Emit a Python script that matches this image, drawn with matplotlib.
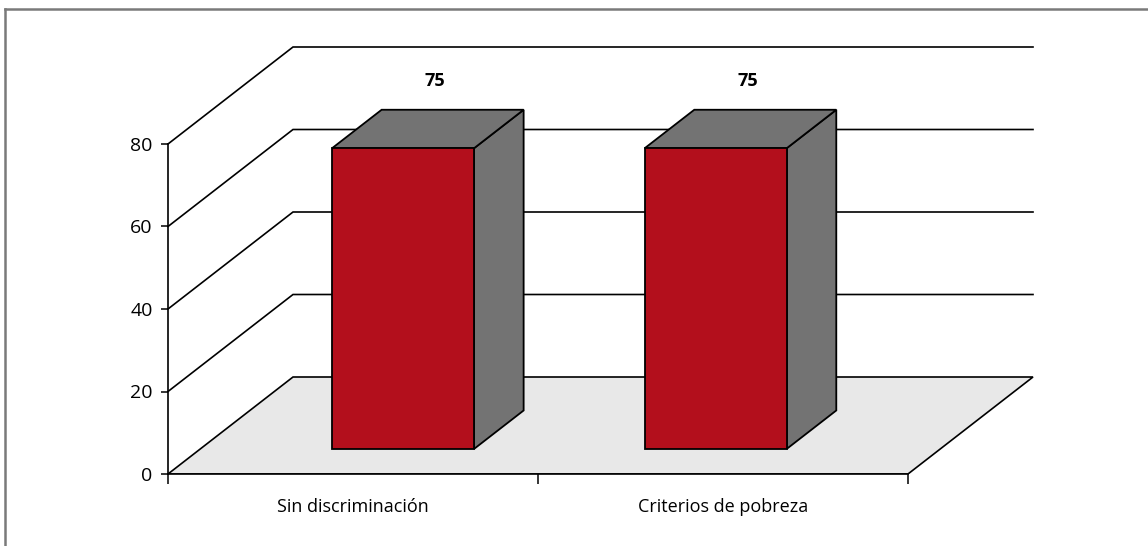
import numpy as np
import matplotlib
matplotlib.use("Agg")
import matplotlib.pyplot as plt
from matplotlib.patches import Polygon
from matplotlib.lines import Line2D

# data
categories = ["Sin discriminación", "Criterios de pobreza"]
values = [75, 75]
yticks = [0, 20, 40, 60, 80]

# colours
front_col = "#b30f1c"
side_col = "#737373"
floor_col = "#e8e8e8"

plt.rcParams["font.family"] = ["Open Sans", "DejaVu Sans"]

W, H = 1148, 546
fig = plt.figure(figsize=(W / 100, H / 100), dpi=100)

# axes placed so that category 0 sits at x=168px and value 0 at y=474px
px_cat = 370.0      # pixels per category
px_val = 4.125      # pixels per value unit
x0_px, y0_px = 168, 474
right_px, top_px = 1045, 35
ax = fig.add_axes([x0_px / W, (H - y0_px) / H, (right_px - x0_px) / W, (y0_px - top_px) / H])
ax.set_xlim(0, (right_px - x0_px) / px_cat)
ax.set_ylim(0, (y0_px - top_px) / px_val)

# oblique depth offset, in data units
DX = 125 / px_cat
DY = 97 / px_val


def P(x, v, d):
    return (x + d * DX, v + d * DY)


n = len(categories)
# floor
floor = Polygon([P(0, 0, 0), P(n, 0, 0), P(n, 0, 1), P(0, 0, 1)], closed=True,
                facecolor=floor_col, edgecolor="black", lw=1.2, zorder=1)
ax.add_patch(floor)

# back wall grid lines
for v in yticks[1:]:
    pts = [P(0, v, 0), P(0, v, 1), P(n, v, 1)]
    ax.plot([p[0] for p in pts], [p[1] for p in pts], color="black", lw=1.2, zorder=2,
            solid_joinstyle="miter", clip_on=False)

# bars (slight perspective shrink of the bar heights, like the original 3D chart)
persp = 0.972
bar_w = 142 / px_cat
d0, d1 = 0.258, 0.655
centers = 0.548 + 0.845 * np.arange(n)
for c, val in zip(centers, values):
    h = val * persp
    xl, xr = c - bar_w / 2, c + bar_w / 2
    side = [P(xr, 0, d0), P(xr, 0, d1), P(xr, h, d1), P(xr, h, d0)]
    top = [P(xl, h, d0), P(xr, h, d0), P(xr, h, d1), P(xl, h, d1)]
    front = [P(xl, 0, d0), P(xr, 0, d0), P(xr, h, d0), P(xl, h, d0)]
    for poly, col in ((side, side_col), (top, side_col), (front, front_col)):
        ax.add_patch(Polygon(poly, closed=True, facecolor=col, edgecolor="black",
                             lw=1.3, zorder=3, joinstyle="miter"))
    ax.annotate(str(val), xy=P(c, h, (d0 + d1) / 2), xytext=(5, 34.5),
                textcoords="offset points", ha="center", va="center",
                fontsize=13, fontweight="bold", zorder=4)

# axes styling
for s in ["top", "right"]:
    ax.spines[s].set_visible(False)
ax.spines["left"].set_bounds(0, 80)
ax.spines["bottom"].set_bounds(0, n)
ax.spines["left"].set_linewidth(1.2)
ax.spines["bottom"].set_linewidth(1.2)
ax.set_yticks(yticks)
ax.tick_params(axis="y", direction="out", length=5, width=1.1, pad=6,
               labelsize=14, colors="black")
ax.set_xticks(np.arange(n + 1))
ax.set_xticklabels([])
ax.tick_params(axis="x", which="major", direction="out", length=7.5, width=1.1)
ax.set_xticks(np.arange(n) + 0.5, minor=True)
ax.set_xticklabels(categories, minor=True)
ax.tick_params(axis="x", which="minor", length=0, pad=17, labelsize=13)
ax.patch.set_visible(False)

# outer frame (cut at right and bottom)
fig.add_artist(Line2D([5 / W, 5 / W], [0, 1 - 9 / H], color="#7a7a7a", lw=1.8))
fig.add_artist(Line2D([5 / W, 1], [1 - 9 / H, 1 - 9 / H], color="#7a7a7a", lw=1.8))

fig.savefig("out.png", dpi=100)
